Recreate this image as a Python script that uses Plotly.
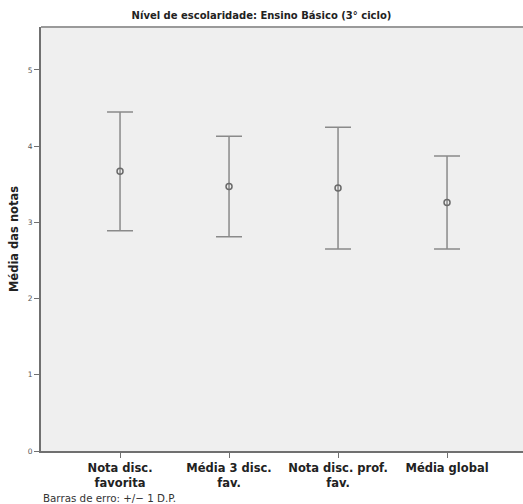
import plotly.graph_objects as go

# Group means with one standard deviation
categories = ["Nota disc.<br>favorita", "Média 3 disc.<br>fav.", "Nota disc. prof.<br>fav.", "Média global"]
means = [3.67, 3.47, 3.45, 3.26]
std_devs = [0.78, 0.66, 0.80, 0.61]
y_ticks = [0, 1, 2, 3, 4, 5]

title_text = "Nível de escolaridade: Ensino Básico (3° ciclo)"
y_title = "Média das notas"
footnote = "Barras de erro: +/− 1 D.P."

font_family = "DejaVu Sans, Verdana, sans-serif"
line_gray = "#8a8a8a"

fig = go.Figure(
    go.Scatter(
        x=categories,
        y=means,
        mode="markers",
        marker=dict(symbol="circle-open", size=6, color="#6a6a6a", line=dict(width=1.5, color="#6a6a6a")),
        error_y=dict(type="data", array=std_devs, visible=True, color=line_gray, thickness=1.5, width=13),
        showlegend=False,
        hoverinfo="skip",
    )
)

fig.update_layout(
    width=523,
    height=504,
    margin=dict(l=41, r=0, t=27, b=53),
    paper_bgcolor="white",
    plot_bgcolor="#efefef",
    font=dict(family=font_family, color="#222"),
    title=dict(
        text=f"<b>{title_text}</b>",
        x=0.5,
        xanchor="center",
        y=1 - 15 / 504,
        yanchor="middle",
        font=dict(size=10, color="#222"),
    ),
    xaxis=dict(
        type="category",
        range=[-0.725, 3.697],
        showgrid=False,
        zeroline=False,
        showline=True,
        linecolor="#707070",
        linewidth=2,
        mirror=False,
        ticks="outside",
        ticklen=5,
        tickwidth=1,
        tickcolor="#707070",
        tickfont=dict(size=11.5, color="#222", family=font_family),
        tickprefix="<b>",
        ticksuffix="</b>",
    ),
    yaxis=dict(
        range=[0, 5.564],
        tickvals=y_ticks,
        showgrid=False,
        zeroline=False,
        showline=True,
        linecolor="#707070",
        linewidth=2,
        ticks="outside",
        ticklen=5,
        tickwidth=1,
        tickcolor="#707070",
        tickfont=dict(size=7.5, color="#555"),
        title=dict(text=f"<b>{y_title}</b>", font=dict(size=11.5, color="#222"), standoff=7),
    ),
    shapes=[
        dict(type="line", xref="paper", yref="paper", x0=0, x1=1, y0=1, y1=1,
             line=dict(color="#9a9a9a", width=2)),
    ],
    annotations=[
        dict(text=footnote, xref="paper", yref="paper", x=0, y=-(498 - 451) / 424,
             xanchor="left", yanchor="middle", showarrow=False,
             font=dict(size=10.3, color="#333")),
    ],
)

fig.write_html("out.html")
